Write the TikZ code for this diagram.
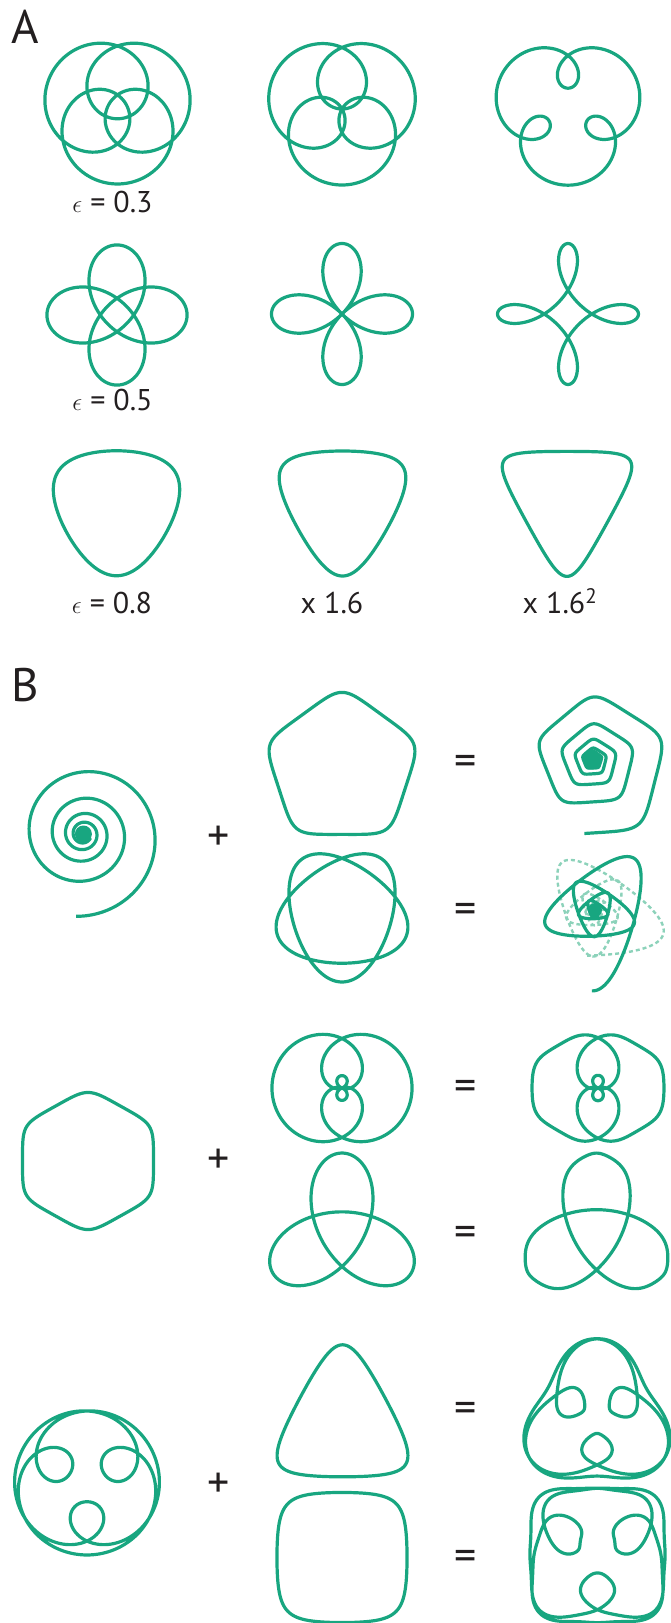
\documentclass[tikz,border=0pt]{standalone}
\usepackage{fontspec}
\setmainfont{PT Sans}
\usepackage{xcolor}
\usepackage{tikz}
\usetikzlibrary{positioning}
\definecolor{jade}{RGB}{24,166,128}
\definecolor{jadelight}{RGB}{140,210,186}
\definecolor{ink}{HTML}{231F20}

\begin{document}
\begin{tikzpicture}[
  x=1pt, y=-1pt,
  orbit/.style={draw=jade, line width=3.2pt, line join=round},
  echo/.style={draw=jadelight, line width=2.4pt, dash pattern=on 4pt off 3pt},
  lbl/.style={font=\fontsize{30}{32}\selectfont, text=ink, anchor=base, inner sep=0pt},
  panel/.style={font=\fontsize{47}{50}\selectfont, text=ink, anchor=north west, inner sep=0pt},
  sign/.style={font=\fontsize{44}{46}\selectfont, text=ink, inner sep=0pt},
  declare function={
    sclip(\p,\q,\s)=\s*\p*((\p/\q)^2)^4;
    lobex(\t)=cos(\t)+1.4*cos(3*\t)+1.0*cos(5*\t);
    lobey(\t)=sin(\t)+1.4*sin(3*\t)+1.0*sin(5*\t);
    lobea(\t)=0.5*lobex(\t)+0.866*lobey(\t);
    lobeb(\t)=-0.5*lobex(\t)+0.866*lobey(\t);
    hlobex(\t)=lobex(\t)-sclip(lobex(\t),3.4,0.08)-0.5*sclip(lobea(\t),3.03,0.11)+0.5*sclip(lobeb(\t),3.03,0.11);
    hlobey(\t)=lobey(\t)-0.866*sclip(lobea(\t),3.03,0.11)-0.866*sclip(lobeb(\t),3.03,0.11);
    trefx(\t)=cos(\t)-1.72*sin(2*\t);
    trefy(\t)=sin(\t)-1.72*cos(2*\t);
    trefa(\t)=0.5*trefx(\t)+0.866*trefy(\t);
    trefb(\t)=-0.5*trefx(\t)+0.866*trefy(\t);
    htrefx(\t)=trefx(\t)-sclip(trefx(\t),2.5,0.1)-0.5*sclip(trefa(\t),2.5,0.1)+0.5*sclip(trefb(\t),2.5,0.1);
    htrefy(\t)=trefy(\t)-0.866*sclip(trefa(\t),2.5,0.1)-0.866*sclip(trefb(\t),2.5,0.1);
    facex0(\t)=sin(2*\t)-0.75*sin(5*\t);
    facey0(\t)=-cos(2*\t)+0.75*cos(5*\t);
    facek(\t)=2-sqrt(facex0(\t)^2+facey0(\t)^2)/1.75;
    facex(\t)=facex0(\t)*facek(\t);
    facey(\t)=facey0(\t)*facek(\t);
    facea(\t)=atan2(facey0(\t),facex0(\t));
    eggr(\a)=1-0.16*sin(3*\a);
    sqr(\a)=1-0.1*cos(4*\a)+0.02*cos(8*\a);
  }
]
  \useasboundingbox (0,0) rectangle (670,1623);

  % ---- panel A ----
  \node[panel] (panelA) at (11,10) {A};

  % row 1: three inner loops
  \draw[orbit, shift={(117.5,109)}] plot[domain=0:360, samples=400, variable=\t]
    ({32.6*(cos(\t+30)+1.3*cos(4*\t+30))}, {-32.6*(sin(\t+30)+1.3*sin(4*\t+30))});
  \draw[orbit, shift={(342,109)}] plot[domain=0:360, samples=400, variable=\t]
    ({38*(cos(\t+30)+1.0*cos(4*\t+30))}, {-38*(sin(\t+30)+1.0*sin(4*\t+30))});
  \draw[orbit, shift={(568,110)}] plot[domain=0:360, samples=400, variable=\t]
    ({48.5*(cos(\t+30)+0.55*cos(4*\t+30))}, {-48.5*(sin(\t+30)+0.55*sin(4*\t+30))});
  \node[lbl] (epsA) at (112.5,212) {{\fontsize{36}{36}\selectfont$\epsilon$} = 0.3};

  % row 2: four petals
  \draw[orbit, shift={(117,315)}] plot[domain=0:360, samples=400, variable=\t]
    ({28.6*(cos(\t)+1.45*cos(3*\t))}, {-28.6*(sin(\t)-1.45*sin(3*\t))});
  \draw[orbit, shift={(342,314)}] plot[domain=0:360, samples=400, variable=\t]
    ({35.25*(cos(\t)+1.0*cos(3*\t))}, {-35.25*(sin(\t)-1.0*sin(3*\t))});
  \draw[orbit, shift={(568,314)}] plot[domain=0:360, samples=400, variable=\t]
    ({42.7*(cos(\t)+0.65*cos(3*\t))}, {-42.7*(sin(\t)-0.65*sin(3*\t))});
  \node[lbl] (epsB) at (112.5,410) {{\fontsize{36}{36}\selectfont$\epsilon$} = 0.5};

  % row 3: rounded triangles
  \draw[orbit, shift={(116.5,507)}] plot[domain=0:360, samples=300, variable=\t]
    ({62*(cos(\t)+0.10*sin(2*\t))}, {-62.5*(sin(\t)+0.10*cos(2*\t))});
  \draw[orbit, shift={(342.5,503.5)}] plot[domain=0:360, samples=300, variable=\t]
    ({60.5*(cos(\t)+0.16*sin(2*\t))}, {-62.5*(sin(\t)+0.16*cos(2*\t))});
  \draw[orbit, shift={(567,499.5)}] plot[domain=0:360, samples=300, variable=\t]
    ({59.5*(cos(\t)+0.23*sin(2*\t))}, {-62.5*(sin(\t)+0.23*cos(2*\t))});
  \node[lbl] (epsC) at (112,613) {{\fontsize{36}{36}\selectfont$\epsilon$} = 0.8};
  \node[lbl] (scaleA) at (332,613) {x 1.6};
  \node[lbl] (scaleB) at (560,613) {x 1.6\textsuperscript{2}};

  % ---- panel B ----
  \node[panel] (panelB) at (11,668) {B};

  % row 1: spiral + pentagon, spiral + pentagram
  \draw[orbit, shift={(83.4,834)}] plot[domain=-5:1500, samples=700, variable=\t]
    ({82*exp(-0.001536*\t)*cos(\t-90)}, {-82*exp(-0.001536*\t)*sin(\t-90)});
  \fill[jade] (83.4,834) circle[radius=8.5pt];
  \node[sign] (plusA) at (219,838) {+};

  \draw[orbit, shift={(342,768)}] plot[domain=0:360, samples=300, variable=\t]
    ({71*(cos(\t)+0.065*sin(4*\t))}, {-71*(sin(\t)+0.065*cos(4*\t))});
  \node[sign] (eqA) at (466,765) {=};
  \draw[orbit, shift={(593,760)}] plot[domain=-5:1500, samples=900, variable=\t]
    ({78*exp(-0.001536*\t)*(cos(\t-90)+0.065*sin(4*(\t-90)))},
     {-78*exp(-0.001536*\t)*(sin(\t-90)+0.065*cos(4*(\t-90)))});
  \fill[jade, shift={(593,760)}] plot[domain=0:360, samples=60, variable=\t]
    ({10*(cos(\t)+0.065*sin(4*\t))}, {-10*(sin(\t)+0.065*cos(4*\t))}) -- cycle;

  \draw[orbit, shift={(342,914)}] plot[domain=0:360, samples=400, variable=\t]
    ({58.6*(sin(2*\t)-0.16*sin(3*\t))}, {58.6*(cos(2*\t)+0.16*cos(3*\t))});
  \node[sign] (eqB) at (466,913) {=};
  \draw[echo, shift={(595,910)}] plot[domain=-5:1500, samples=900, variable=\t]
    ({63*exp(-0.001536*\t)*(sin(\t)+0.28*sin(1.5*\t))},
     {63*exp(-0.001536*\t)*(cos(\t)-0.28*cos(1.5*\t))});
  \draw[orbit, shift={(595,910)}] plot[domain=-5:1500, samples=900, variable=\t]
    ({63*exp(-0.001536*\t)*(sin(\t)-0.28*sin(1.5*\t))},
     {63*exp(-0.001536*\t)*(cos(\t)+0.28*cos(1.5*\t))});
  \fill[jade] (595,910) circle[radius=7pt];

  % row 2: hexagon + two-lobed loops, hexagon + trefoil
  \draw[orbit, shift={(88,1161)}] plot[domain=0:360, samples=300, variable=\t]
    ({68.2*(cos(\t)-0.04*cos(5*\t))}, {-65.9*(sin(\t)+0.04*sin(5*\t))});
  \node[sign] (plusB) at (219,1161) {+};

  \draw[orbit, shift={(342,1088)}] plot[domain=0:360, samples=700, variable=\t]
    ({20.6*lobex(\t)}, {-20.6*lobey(\t)});
  \node[sign] (eqC) at (466,1090) {=};
  \draw[orbit, shift={(598,1088)}] plot[domain=0:360, samples=700, variable=\t]
    ({21.1*hlobex(\t)}, {-21.1*hlobey(\t)});

  \draw[orbit, shift={(342,1233)}] plot[domain=0:360, samples=400, variable=\t]
    ({29.4*trefx(\t)}, {-29.4*trefy(\t)});
  \node[sign] (eqD) at (466,1236) {=};
  \draw[orbit, shift={(596.5,1233)}] plot[domain=0:360, samples=500, variable=\t]
    ({32*htrefx(\t)}, {-32.4*htrefy(\t)});

  % row 3: face + egg, face + square
  \draw[orbit, shift={(87,1482.5)}] plot[domain=0:360, samples=700, variable=\t]
    ({41.4*facex(\t)}, {-41.4*facey(\t)});
  \node[sign] (plusC) at (219,1485) {+};

  \draw[orbit, shift={(342.5,1424)}] plot[domain=0:360, samples=300, variable=\t]
    ({61.2*(cos(\t)-0.2*sin(2*\t))}, {-66*(sin(\t)-0.2*cos(2*\t))});
  \node[sign] (eqE) at (466,1412) {=};
  \draw[orbit, shift={(597,1418)}] plot[domain=0:360, samples=700, variable=\t]
    ({39*facex(\t)*eggr(facea(\t))}, {-39.5*facey(\t)*eggr(facea(\t))});

  \draw[orbit, shift={(342,1557.5)}] plot[domain=0:360, samples=300, variable=\t]
    ({70.7*(cos(\t)-0.08*cos(3*\t))}, {-70.7*(sin(\t)+0.08*sin(3*\t))});
  \node[sign] (eqF) at (466,1560) {=};
  \draw[orbit, shift={(597.5,1555)}] plot[domain=0:360, samples=700, variable=\t]
    ({42*facex(\t)*sqr(facea(\t))}, {-42*facey(\t)*sqr(facea(\t))});
\end{tikzpicture}
\end{document}
